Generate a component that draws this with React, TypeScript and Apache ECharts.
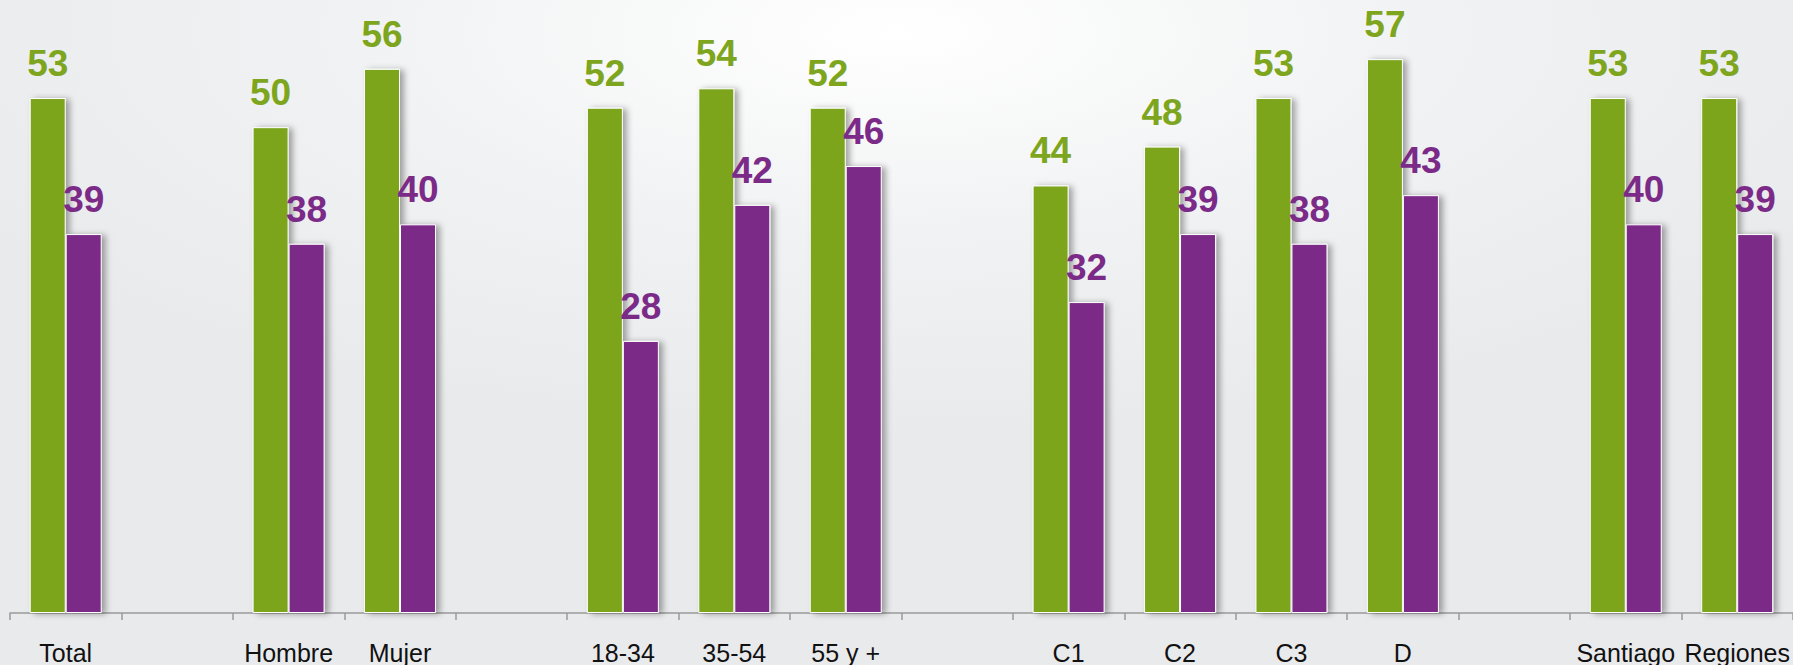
import React, { useEffect, useRef } from "react";
import * as echarts from "echarts";

const categories = ["Total", "", "Hombre", "Mujer", "", "18-34", "35-54", "55 y +", "", "C1", "C2", "C3", "D", "", "Santiago", "Regiones"];
const greenValues: (number | string)[] = [53, "-", 50, 56, "-", 52, 54, 52, "-", 44, 48, 53, 57, "-", 53, 53];
const purpleValues: (number | string)[] = [39, "-", 38, 40, "-", 28, 42, 46, "-", 32, 39, 38, 43, "-", 40, 39];

const GREEN = "#7DA51E";
const PURPLE = "#7B2B87";

export default function App() {
  const ref = useRef<HTMLDivElement>(null);
  useEffect(() => {
    document.body.style.margin = "0";
    const chart = echarts.init(ref.current!, undefined, { renderer: "svg" });
    const barStyle = (color: string) => ({
      color,
      borderColor: "#ffffff",
      borderWidth: 1,
      shadowColor: "rgba(0,0,0,0.35)",
      shadowBlur: 6,
      shadowOffsetX: 4,
      shadowOffsetY: 1,
    });
    const labelStyle = (color: string) => ({
      show: true,
      position: "top" as const,
      distance: 16,
      color,
      fontSize: 37,
      fontWeight: "bold" as const,
      fontFamily: "Liberation Sans, Arial, sans-serif",
    });
    chart.setOption({
      animation: false,
      graphic: [
        {
          type: "rect",
          z: -100,
          silent: true,
          shape: { x: 0, y: 0, width: 1793, height: 665 },
          style: {
            fill: new echarts.graphic.RadialGradient(0.5, 0.05, 0.6, [
              { offset: 0, color: "#ffffff" },
              { offset: 0.5, color: "#f1f2f3" },
              { offset: 1, color: "#e9eaec" },
            ]),
          },
        },
      ],
      grid: { left: 10, right: 0, top: 30, bottom: 52, containLabel: false },
      xAxis: {
        type: "category",
        data: categories,
        axisLine: { lineStyle: { color: "#9a9a9a", width: 1.5 } },
        axisTick: { show: true, length: 7, lineStyle: { color: "#9a9a9a", width: 1.5 } },
        axisLabel: {
          color: "#111111",
          fontSize: 25,
          margin: 27,
          fontFamily: "Liberation Sans, Arial, sans-serif",
          interval: 0,
        },
      },
      yAxis: {
        type: "value",
        min: 0,
        max: 60,
        show: false,
        splitLine: { show: false },
      },
      series: [
        {
          type: "bar",
          data: greenValues,
          barWidth: 36,
          barGap: "0%",
          itemStyle: barStyle(GREEN),
          label: labelStyle(GREEN),
        },
        {
          type: "bar",
          data: purpleValues,
          barWidth: 36,
          itemStyle: barStyle(PURPLE),
          label: labelStyle(PURPLE),
        },
      ],
    });
    return () => chart.dispose();
  }, []);
  return <div ref={ref} style={{ position: "absolute", left: 0, top: 0, width: 1793, height: 665 }} />;
}
